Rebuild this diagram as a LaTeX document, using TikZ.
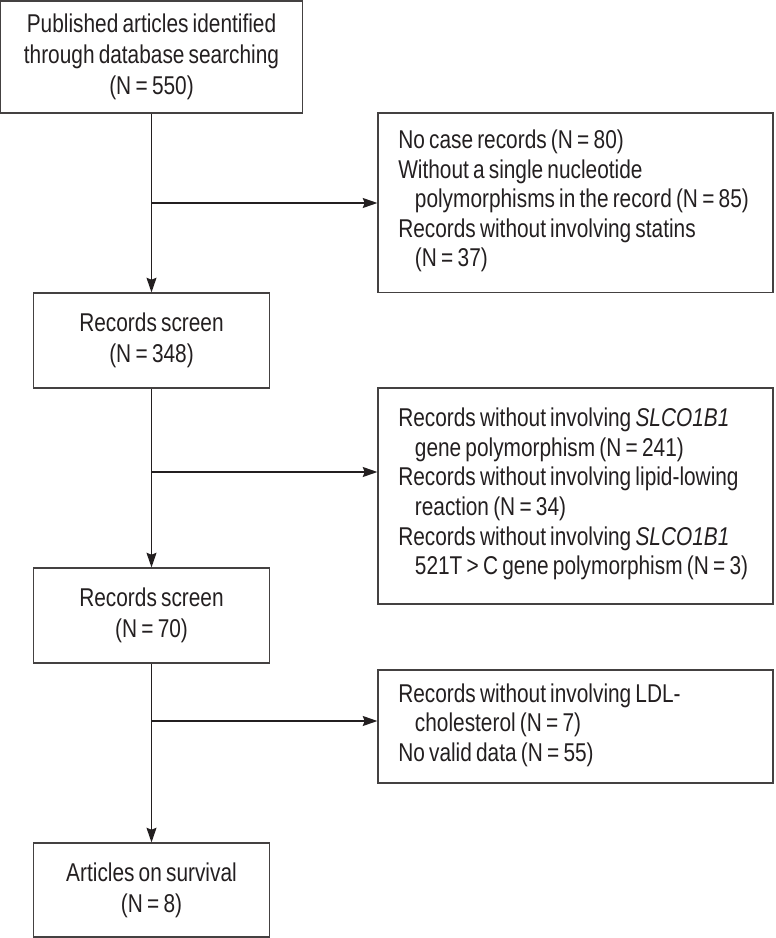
\documentclass[tikz,border=0pt]{standalone}
\usepackage{fontspec}
\setmainfont[FakeStretch=0.81,WordSpace=0.72]{Liberation Sans}
\usetikzlibrary{arrows.meta}
\definecolor{ink}{HTML}{231F20}
\tikzset{
  lbox/.style={draw=ink!85, line width=0.9pt, rectangle, inner sep=0pt,
    minimum width=177pt, align=center, text=ink, font=\fontsize{19.3pt}{23.5pt}\selectfont},
  rbox/.style={draw=ink!85, line width=0.9pt, rectangle, inner sep=0pt,
    minimum width=296.25pt},
  rtext/.style={anchor=west, inner sep=0pt, align=left, text=ink,
    font=\fontsize{19.3pt}{22.2pt}\selectfont},
  conn/.style={draw=ink, line width=1pt},
  arr/.style={conn, -{Stealth[length=11pt,width=7.5pt,inset=1.5pt]}}
}
\newcommand{\ind}{\hspace*{12.5pt}}
\begin{document}
\begin{tikzpicture}[x=0.75pt,y=-0.75pt]
\useasboundingbox (0,0) rectangle (775,938);
% left column
\node[lbox, minimum width=226.5pt, minimum height=84pt] (b1) at (151.5,57)
  {Published articles identified\\through database searching\\(N\,=\,550)};
\node[lbox, minimum height=71.25pt] (b2) at (151.5,340.5)
  {Records screen\\(N\,=\,348)};
\node[lbox, minimum height=71.25pt] (b3) at (151.5,615.5)
  {Records screen\\(N\,=\,70)};
\node[lbox, minimum height=70.5pt] (b4) at (151.5,890)
  {Articles on survival\\(N\,=\,8)};
% right column
\node[rbox, minimum height=134.6pt] (r1) at (575.5,202.75) {};
\node[rbox, minimum height=162pt] (r2) at (575.5,496) {};
\node[rbox, minimum height=84.75pt] (r3) at (575.5,726.5) {};
\node[rtext] (t1) at (398,201)
  {No case records (N\,=\,80)\\
   Without a single nucleotide\\
   \ind polymorphisms in the record (N\,=\,85)\\
   Records without involving statins\\
   \ind (N\,=\,37)};
\node[rtext] (t2) at (398,494)
  {Records without involving \textit{SLCO1B1}\\
   \ind gene polymorphism (N\,=\,241)\\
   Records without involving lipid-lowing\\
   \ind reaction (N\,=\,34)\\
   Records without involving \textit{SLCO1B1}\\
   \ind 521T\,>\,C gene polymorphism (N\,=\,3)};
\node[rtext] (t3) at (398,725)
  {Records without involving LDL-\\
   \ind cholesterol (N\,=\,7)\\
   No valid data (N\,=\,55)};
% connectors
\coordinate (j1) at (151.5,203);
\coordinate (j2) at (151.5,472);
\coordinate (j3) at (151.5,721);
\draw[arr] (b1) -- (b2);
\draw[arr] (b2) -- (b3);
\draw[arr] (b3) -- (b4);
\draw[arr] (j1) -- (j1 -| r1.west);
\draw[arr] (j2) -- (j2 -| r2.west);
\draw[arr] (j3) -- (j3 -| r3.west);
\end{tikzpicture}
\end{document}
